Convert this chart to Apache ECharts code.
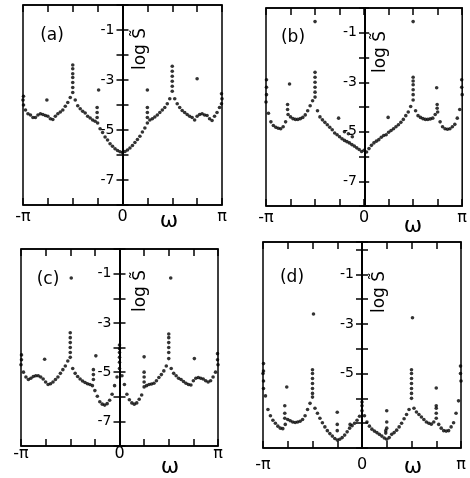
<!DOCTYPE html>
<html>
<head>
<meta charset="utf-8">
<script src="https://cdn.jsdelivr.net/npm/echarts@6/dist/echarts.min.js"></script>
<style>
  html, body { margin: 0; padding: 0; background: #fff; }
  #chart { width: 470px; height: 478px; }
</style>
</head>
<body>
<div id="chart"></div>
<script>
// 频率 ω，单位 π
const omega = [
  -1, -0.975, -0.95, -0.925, -0.9, -0.875, -0.85, -0.825, -0.8, -0.775,
  -0.75, -0.725, -0.7, -0.675, -0.65, -0.625, -0.6, -0.575, -0.55, -0.525,
  -0.5, -0.475, -0.45, -0.425, -0.4, -0.375, -0.35, -0.325, -0.3, -0.275,
  -0.25, -0.225, -0.2, -0.175, -0.15, -0.125, -0.1, -0.075, -0.05, -0.025,
  0, 0.025, 0.05, 0.075, 0.1, 0.125, 0.15, 0.175, 0.2, 0.225,
  0.25, 0.275, 0.3, 0.325, 0.35, 0.375, 0.4, 0.425, 0.45, 0.475,
  0.5, 0.525, 0.55, 0.575, 0.6, 0.625, 0.65, 0.675, 0.7, 0.725,
  0.75, 0.775, 0.8, 0.825, 0.85, 0.875, 0.9, 0.925, 0.95, 0.975,
  1
]

// log S 曲线 (a)
const logSA = [
  -3.8, -4.2, -4.35, -4.4, -4.5, -4.5, -4.4, -4.35, -4.38, -4.42,
  -4.45, -4.55, -4.58, -4.45, -4.35, -4.28, -4.2, -4.05, -3.9, -3.7,
  -3.5, -3.8, -4.03, -4.15, -4.25, -4.32, -4.45, -4.52, -4.6, -4.65,
  -4.72, -4.95, -5.1, -5.28, -5.4, -5.55, -5.65, -5.75, -5.82, -5.87,
  -5.9, -5.86, -5.8, -5.72, -5.62, -5.5, -5.38, -5.25, -5.08, -4.92,
  -4.72, -4.6, -4.55, -4.48, -4.4, -4.3, -4.2, -4.1, -3.95, -3.75,
  -3.45, -3.75, -3.95, -4.1, -4.22, -4.3, -4.38, -4.45, -4.5, -4.6,
  -4.45, -4.38, -4.35, -4.4, -4.42, -4.55, -4.62, -4.45, -4.3, -4.1,
  -3.75
]
const logSB = [
  -3.8, -4.25, -4.6, -4.75, -4.82, -4.86, -4.88, -4.8, -4.6, -4.3,
  -4.4, -4.47, -4.5, -4.5, -4.47, -4.42, -4.32, -4.15, -3.95, -3.75,
  -3.6, -4.15, -4.4, -4.52, -4.62, -4.72, -4.82, -4.92, -5.05, -5.12,
  -5.2, -5.28, -5.35, -5.4, -5.45, -5.52, -5.58, -5.65, -5.72, -5.8,
  -5.75, -5.82, -5.68, -5.55, -5.45, -5.38, -5.32, -5.22, -5.15, -5.12,
  -5.02, -4.95, -4.88, -4.8, -4.72, -4.62, -4.5, -4.35, -4.2, -3.98,
  -3.72, -4.15, -4.35, -4.42, -4.47, -4.5, -4.5, -4.48, -4.45, -4.3,
  -4.2, -4.6, -4.8, -4.88, -4.9, -4.88, -4.8, -4.7, -4.45, -4.1,
  -3.5
]
const logSC = [
  -4.7, -5.0, -5.2, -5.3, -5.25, -5.18, -5.15, -5.15, -5.2, -5.28,
  -5.4, -5.5, -5.47, -5.4, -5.3, -5.2, -5.05, -4.9, -4.75, -4.55,
  -4.4, -4.85, -5.05, -5.18, -5.28, -5.36, -5.42, -5.47, -5.5, -5.55,
  -5.75, -5.98, -6.2, -6.3, -6.34, -6.28, -6.14, -5.9, -5.55, -5.2,
  -4.85, -5.15, -5.5, -5.9, -6.12, -6.25, -6.3, -6.25, -6.1, -5.93,
  -5.6, -5.55, -5.5, -5.48, -5.45, -5.35, -5.22, -5.1, -4.95, -4.75,
  -4.45, -4.85, -5.05, -5.15, -5.25, -5.3, -5.38, -5.45, -5.5, -5.52,
  -5.35, -5.25, -5.22, -5.25, -5.28, -5.35, -5.4, -5.35, -5.2, -5.0,
  -4.7
]
const logSD = [
  -5.0, -5.9, -6.45, -6.7, -6.88, -7.0, -7.12, -7.2, -7.22, -7.05,
  -6.85, -6.9, -6.95, -6.97, -6.95, -6.92, -6.85, -6.7, -6.45, -6.2,
  -5.95, -6.4, -6.6, -6.8, -6.98, -7.15, -7.3, -7.42, -7.52, -7.62,
  -7.68, -7.65, -7.58, -7.48, -7.35, -7.2, -7.1, -7.0, -6.88, -6.72,
  -6.5, -6.7, -6.95, -7.12, -7.24, -7.32, -7.38, -7.45, -7.52, -7.6,
  -7.65, -7.58, -7.45, -7.38, -7.28, -7.15, -7.0, -6.82, -6.65, -6.45,
  -6.0, -6.4, -6.55, -6.65, -6.75, -6.85, -6.95, -7.0, -7.04, -6.95,
  -6.8, -7.05, -7.2, -7.3, -7.32, -7.3, -7.15, -6.98, -6.6, -6.1,
  -5.3
]

// 尖峰上的竖排点 [ω, log S]
const spikesA = [
  [-0.5, -3.3], [-0.5, -3.1], [-0.5, -2.9], [-0.5, -2.75], [-0.5, -2.55], [-0.5, -2.4],
  [0.5, -3.25], [0.5, -3.05], [0.5, -2.85], [0.5, -2.65], [0.5, -2.45],
  [-0.255, -4.5], [-0.255, -4.3], [-0.255, -4.1], [0.25, -4.5], [0.25, -4.3], [0.25, -4.1],
  [-0.995, -4.0], [-0.995, -3.65], [0.995, -3.95], [0.995, -3.55]
]
const spikesB = [
  [-0.995, -3.5], [-0.995, -3.2], [-0.995, -2.9], [-0.78, -4.1], [-0.78, -3.9],
  [-0.5, -3.4], [-0.5, -3.2], [-0.5, -3.0], [-0.5, -2.8], [-0.5, -2.6],
  [0.5, -3.5], [0.5, -3.3], [0.5, -3.1], [0.5, -2.95], [0.5, -2.8],
  [0.745, -4.05], [0.745, -3.9], [0.995, -3.2], [0.995, -2.9]
]
const spikesC = [
  [-0.995, -4.5], [-0.995, -4.3], [-0.5, -4.2], [-0.5, -4.0], [-0.5, -3.8], [-0.5, -3.6], [-0.5, -3.4],
  [-0.265, -5.3], [-0.265, -5.1], [-0.265, -4.9],
  [0, -4.6], [0, -4.4], [0, -4.2], [0, -4.05], [0, -3.9],
  [0.25, -5.4], [0.25, -5.2], [0.25, -5.0],
  [0.5, -4.2], [0.5, -4.0], [0.5, -3.8], [0.5, -3.6], [0.5, -3.45], [0.995, -4.5], [0.995, -4.25]
]
const spikesD = [
  [-0.995, -4.6], [-0.995, -4.9], [-0.995, -5.3], [-0.995, -5.6],
  [-0.78, -6.8], [-0.78, -6.6], [-0.78, -6.3],
  [-0.5, -5.8], [-0.5, -5.6], [-0.5, -5.4], [-0.5, -5.2], [-0.5, -5.0], [-0.5, -4.85],
  [0, -6.3], [0, -6.15], [0.24, -7.4], [0.24, -7.3],
  [0.5, -5.8], [0.5, -5.6], [0.5, -5.4], [0.5, -5.2], [0.5, -5.0], [0.5, -4.85],
  [0.75, -6.6], [0.75, -6.4], [0.75, -6.3], [0.995, -5.0], [0.995, -4.7]
]

// 零散的点
const strayA = [[-0.76, -3.8], [-0.24, -3.4], [0.25, -3.4], [0.75, -2.95]]
const strayB = [
  [-0.76, -3.07], [-0.5, -0.55], [0.5, -0.55], [0.74, -3.22], [-0.26, -4.45],
  [0.245, -4.42], [-0.2, -5.0], [-0.16, -5.08], [-0.12, -5.2]
]
const strayC = [[-0.49, -1.18], [0.52, -1.18], [-0.24, -4.34], [0.25, -4.38], [0.76, -4.45], [-0.76, -4.48]]
const strayD = [
  [-0.49, -2.6], [0.51, -2.75], [-0.76, -5.54], [0.75, -5.58], [-0.25, -6.56], [-0.25, -7.05],
  [-0.25, -7.3], [-0.12, -7.05], [0.25, -6.5], [0.25, -6.95], [0.25, -7.2]
]

// 坐标轴刻度文字
const xTickText = { '-1': '-π', '0': '0', '1': 'π' }
const yTickText = ['-1', '-3', '-5', '-7']
const yTickTextD = ['-1', '-3', '-5']

// 四个子图的布局
const panels = [
  { tag: '(a)', grid: { left: 23, top: 5, width: 199, height: 200 }, yMax: 0, xMargin: 4, yText: yTickText,
    tagPos: [52, 36], namePos: [141, 49], wPos: [169, 221], curve: logSA, extra: spikesA.concat(strayA) },
  { tag: '(b)', grid: { left: 266, top: 8, width: 198, height: 198 }, yMax: 0, xMargin: 4, yText: yTickText,
    tagPos: [293, 38], namePos: [381, 52], wPos: [413, 226], curve: logSB, extra: spikesB.concat(strayB) },
  { tag: '(c)', grid: { left: 21, top: 249, width: 197, height: 197 }, yMax: 0, xMargin: 0, yText: yTickText,
    tagPos: [48, 280], namePos: [141, 291], wPos: [170, 467], curve: logSC, extra: spikesC.concat(strayC) },
  { tag: '(d)', grid: { left: 263, top: 242, width: 198, height: 206 }, yMax: 0.3, xMargin: 9, yText: yTickTextD,
    tagPos: [292, 278], namePos: [380, 292], wPos: [413, 467], curve: logSD, extra: spikesD.concat(strayD) }
]

const black = '#000'
const font = 'DejaVu Sans'
const grids = []
const xAxes = []
const yAxes = []
const series = []
const graphic = []

panels.forEach((p, i) => {
  grids.push(Object.assign({ show: true, borderColor: black, borderWidth: 1.5 }, p.grid))

  // 上下两条 x 轴，刻度朝内
  ;['bottom', 'top'].forEach(pos => {
    xAxes.push({
      gridIndex: i,
      type: 'value',
      position: pos,
      min: -1,
      max: 1,
      interval: 0.25,
      axisLine: { onZero: false, lineStyle: { color: black, width: 1.5 } },
      axisTick: { inside: true, length: 7, lineStyle: { color: black, width: 1.5 } },
      axisLabel: {
        show: pos === 'bottom',
        margin: p.xMargin,
        color: black,
        fontSize: 16,
        fontFamily: font,
        formatter: v => xTickText[String(v)] || ''
      },
      splitLine: { show: false }
    })
  })

  // y 轴挪到 ω=0 处，左右各一条让刻度穿过轴线
  ;['left', 'right'].forEach(pos => {
    yAxes.push({
      gridIndex: i,
      type: 'value',
      position: pos,
      offset: -p.grid.width / 2,
      min: -8,
      max: p.yMax,
      interval: 1,
      axisLine: { show: pos === 'left', onZero: false, lineStyle: { color: black, width: 2 } },
      axisTick: { length: 6, lineStyle: { color: black, width: 1.5 } },
      axisLabel: {
        show: pos === 'left',
        margin: 8,
        color: black,
        fontSize: 14,
        fontFamily: font,
        formatter: v => (p.yText.indexOf(String(v)) >= 0 ? String(v) : '')
      },
      splitLine: { show: false }
    })
  })

  series.push({
    type: 'scatter',
    xAxisIndex: 2 * i,
    yAxisIndex: 2 * i,
    symbolSize: 3.6,
    silent: true,
    itemStyle: { color: black },
    data: omega.map((w, k) => [w, p.curve[k]]).concat(p.extra)
  })

  graphic.push(
    { type: 'text', x: p.tagPos[0], y: p.tagPos[1],
      style: { text: p.tag, font: '17px "' + font + '"', fill: black, align: 'center', verticalAlign: 'middle' } },
    { type: 'text', x: p.namePos[0], y: p.namePos[1], rotation: Math.PI / 2,
      style: { text: 'log S\u0303', font: '17px "' + font + '"', fill: black, align: 'center', verticalAlign: 'middle' } },
    { type: 'text', x: p.wPos[0], y: p.wPos[1],
      style: { text: 'ω', font: '22px "' + font + '"', fill: black, align: 'center', verticalAlign: 'middle' } }
  )
})

const chart = echarts.init(document.getElementById('chart'))
chart.setOption({
  animation: false,
  backgroundColor: '#fff',
  grid: grids,
  xAxis: xAxes,
  yAxis: yAxes,
  series: series,
  graphic: graphic
})
</script>
</body>
</html>
